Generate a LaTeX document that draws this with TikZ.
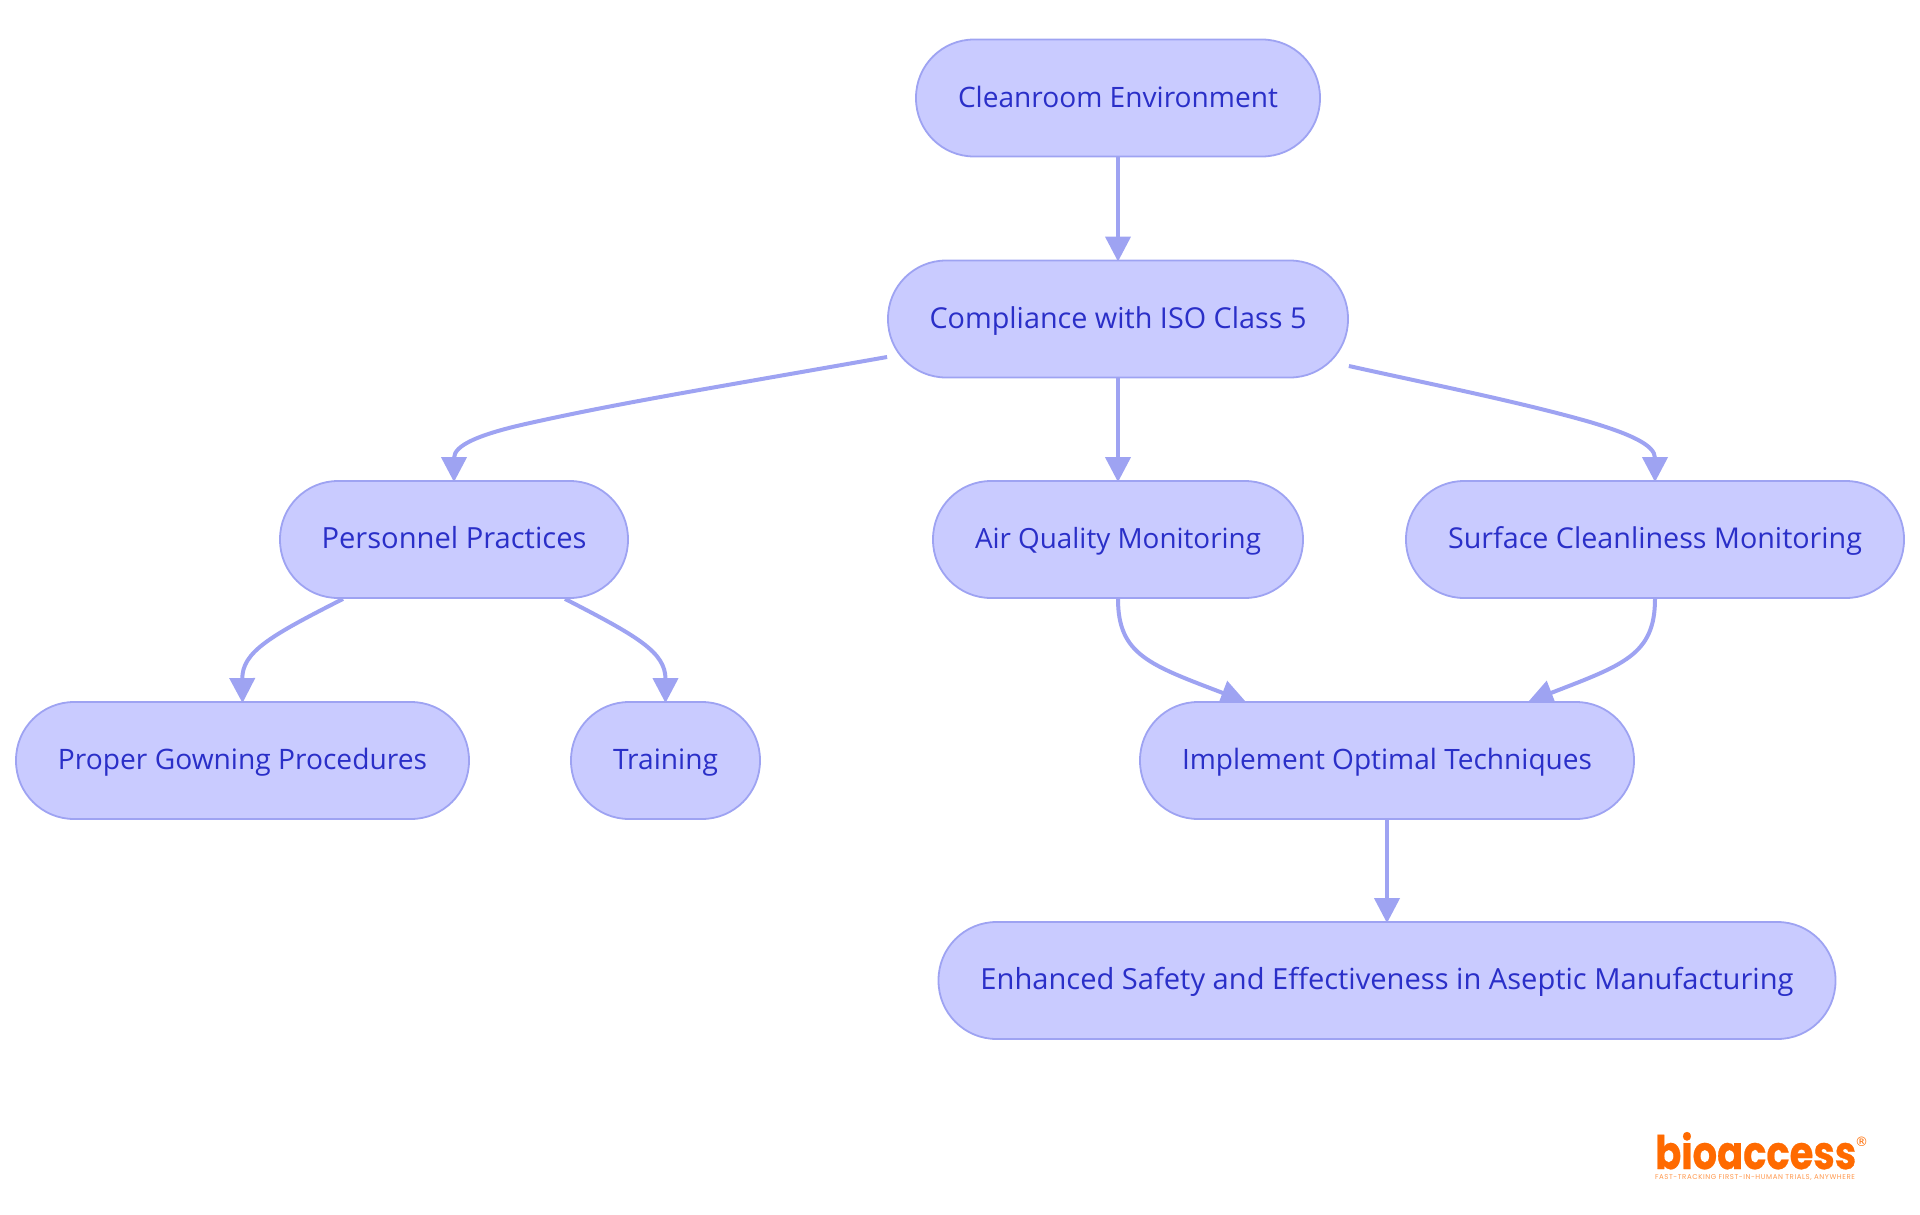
\documentclass[tikz,border=0pt]{standalone}
\usepackage{fontspec}
\setmainfont{Open Sans}
\newfontfamily\logofont[BoldFeatures={FakeBold=0.6}]{Poppins}
\newfontfamily\tagfont[LetterSpace=8]{Poppins}
\newfontfamily\regfont{DejaVu Sans}
\usetikzlibrary{arrows.meta}
\definecolor{nodefill}{HTML}{C9CBFF}
\definecolor{nodeline}{HTML}{9EA3F2}
\definecolor{nodetext}{HTML}{2A2FC8}
\definecolor{logoorange}{HTML}{FF6A00}
\pgfdeclarelayer{edgelayer}
\pgfsetlayers{edgelayer,main}
\newcommand{\fitlabel}[2]{\resizebox{#1pt}{!}{#2}}
\tikzset{
  box/.style={draw=nodeline,fill=nodefill,line width=1.8pt,rectangle,rounded corners=58pt,
    minimum height=117pt,text=nodetext,inner sep=0pt,text height=20pt,text depth=2pt,
    font=\fontsize{28}{32}\selectfont},
  conn/.style={draw=nodeline,line width=4pt,shorten >=-2pt,-{Triangle[width=25pt,length=25pt]}},
}
\begin{document}
\begin{tikzpicture}[x=1pt,y=-1pt]
\useasboundingbox (0,0) rectangle (1920,1215);
\path
 node[box,minimum width=404pt] (env) at (1118,98) {\fitlabel{320}{Cleanroom Environment}}
 node[box,minimum width=460pt] (iso) at (1118,319) {\fitlabel{377}{Compliance with ISO Class 5}}
 node[box,minimum width=348pt] (per) at (454,539.5) {\fitlabel{265}{Personnel Practices}}
 node[box,minimum width=370pt] (air) at (1118,539.5) {\fitlabel{286}{Air Quality Monitoring}}
 node[box,minimum width=498pt] (sur) at (1655,539.5) {\fitlabel{414}{Surface Cleanliness Monitoring}}
 node[box,minimum width=453pt] (gow) at (242.5,760.5) {\fitlabel{369}{Proper Gowning Procedures}}
 node[box,minimum width=189pt] (tra) at (665.5,760.5) {\fitlabel{105}{Training}}
 node[box,minimum width=494pt] (imp) at (1387,760.5) {\fitlabel{410}{Implement Optimal Techniques}}
 node[box,minimum width=897pt] (enh) at (1387,980.5) {\fitlabel{813}{Enhanced Safety and Effectiveness in Aseptic Manufacturing}};
\begin{pgfonlayer}{edgelayer}
\draw[conn] (env.south) -- (iso.north);
\draw[conn] (iso.south) -- (air.north);
\draw[conn] ([yshift=-38pt]iso.west) .. controls (700,390) and (620,403) .. (530,423) .. controls (480,434) and (454,445) .. (per.north);
\draw[conn] ([yshift=-47pt]iso.east) .. controls (1430,384) and (1520,402) .. (1590,422) .. controls (1630,434) and (1655,445) .. (sur.north);
\draw[conn] ([xshift=-111pt]per.south) .. controls (270,636) and (242,652) .. (gow.north);
\draw[conn] ([xshift=111pt]per.south) .. controls (637,636) and (665.5,652) .. (tra.north);
\draw[conn] (air.south) .. controls (1118,655) and (1150,665) .. ([xshift=-143pt]imp.north);
\draw[conn] (sur.south) .. controls (1655,655) and (1623,665) .. ([xshift=143pt]imp.north);
\draw[conn] (imp.south) -- (enh.north);
\end{pgfonlayer}
% logo
\node[text=logoorange,inner sep=0pt,anchor=base west,font=\logofont\bfseries\fontsize{48}{48}\selectfont] (logo) at (1655,1169) {\resizebox{201pt}{37pt}{bioaccess}};
\node[text=logoorange,inner sep=0pt,anchor=center,font=\regfont\fontsize{13}{13}\selectfont] (reg) at (1861.5,1142) {®};
\node[text=logoorange!70,inner sep=0pt,anchor=center,font=\tagfont\fontsize{7}{7}\selectfont] (tag) at (1755,1177.5) {FAST-TRACKING FIRST-IN-HUMAN TRIALS, ANYWHERE};
\end{tikzpicture}
\end{document}
